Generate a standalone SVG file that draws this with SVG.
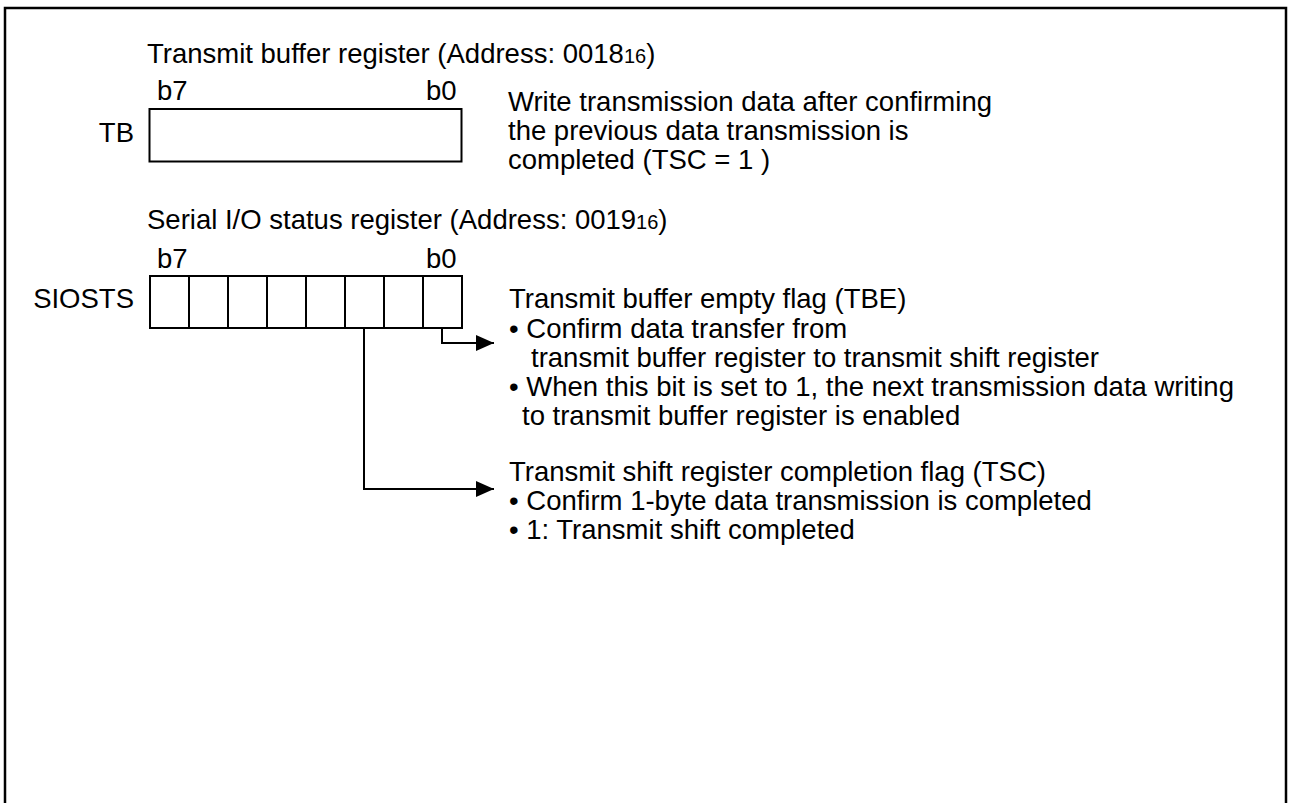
<svg xmlns="http://www.w3.org/2000/svg" width="1289" height="803" viewBox="0 0 1289 803">
<defs>
<style>
text{font-family:"Liberation Sans",Arial,sans-serif;font-size:27.5px;fill:#000}
.small{font-size:20px}
.box{fill:#fff;stroke:#000;stroke-width:2}
.wire{fill:none;stroke:#000;stroke-width:2}
</style>
<marker id="arr" markerWidth="18" markerHeight="16" refX="18" refY="8" orient="auto" markerUnits="userSpaceOnUse">
<path d="M0,0 L18,8 L0,16 Z" fill="#000"/>
</marker>
</defs>
<rect x="0" y="0" width="1289" height="803" fill="#fff"/>
<rect x="5" y="8" width="1281" height="820" fill="none" stroke="#000" stroke-width="2.5"/>

<g id="tb-register">
<text x="147" y="63">Transmit buffer register (Address: 0018<tspan class="small">16</tspan>)</text>
<text x="157" y="100">b7</text>
<text x="426" y="100">b0</text>
<text x="134" y="142" text-anchor="end">TB</text>
<rect class="box" x="149.5" y="109" width="312" height="52.5"/>
</g>

<g id="tb-note">
<text x="508" y="111">Write transmission data after confirming</text>
<text x="508" y="140">the previous data transmission is</text>
<text x="508" y="169">completed (TSC = 1 )</text>
</g>

<g id="siosts-register">
<text x="147" y="229">Serial I/O status register (Address: 0019<tspan class="small">16</tspan>)</text>
<text x="157" y="268">b7</text>
<text x="426" y="268">b0</text>
<text x="134" y="308" text-anchor="end">SIOSTS</text>
<rect class="box" x="150" y="276" width="312" height="52"/>
<path class="wire" d="M189,276V328M228,276V328M267,276V328M306,276V328M345,276V328M384,276V328M423,276V328"/>
</g>

<g id="tbe-note">
<text x="509" y="308">Transmit buffer empty flag (TBE)</text>
<text x="509" y="338">• Confirm data transfer from</text>
<text x="531" y="367">transmit buffer register to transmit shift register</text>
<text x="509" y="396">• When this bit is set to 1, the next transmission data writing</text>
<text x="522" y="425">to transmit buffer register is enabled</text>
</g>

<g id="tsc-note">
<text x="509" y="481">Transmit shift register completion flag (TSC)</text>
<text x="509" y="510">• Confirm 1-byte data transmission is completed</text>
<text x="509" y="539">• 1: Transmit shift completed</text>
</g>

<g id="connectors">
<path class="wire" d="M442,328V343H494" marker-end="url(#arr)"/>
<path class="wire" d="M364,328V489H494" marker-end="url(#arr)"/>
</g>
</svg>
